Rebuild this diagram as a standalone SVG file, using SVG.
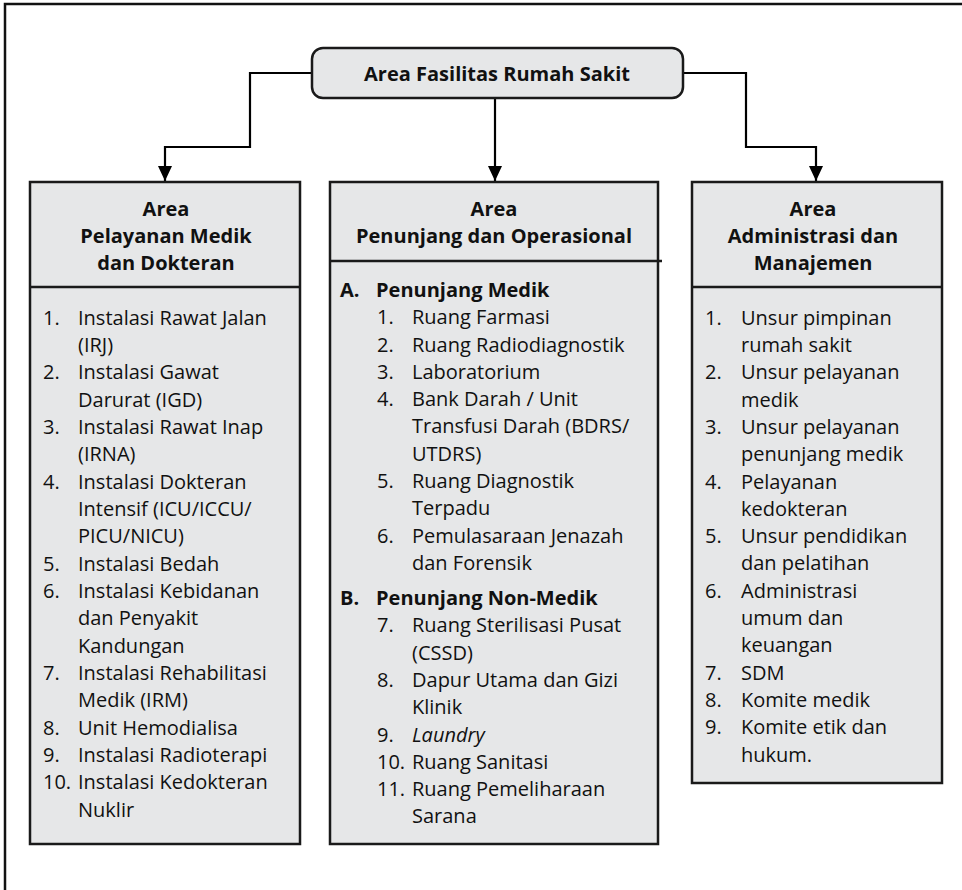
<svg xmlns="http://www.w3.org/2000/svg" width="962" height="890" viewBox="0 0 962 890">
<style>
.box{fill:#e6e7e8;stroke:#1a1a1a;stroke-width:2.5}
.div{stroke:#1a1a1a;stroke-width:2.5;fill:none}
.conn{stroke:#000;stroke-width:2.2;fill:none}
.h{font-family:"Open Sans","Noto Sans",sans-serif;font-weight:700;font-size:20px;fill:#111;text-anchor:middle}
.t{font-family:"Open Sans","Noto Sans",sans-serif;font-size:20px;fill:#111}
.b{font-weight:700}
.i{font-style:italic}
</style>
<defs>
<marker id="arr" markerUnits="userSpaceOnUse" markerWidth="16" markerHeight="14" refX="15" refY="7" orient="auto">
<path d="M0,0 L15,7 L0,14 z" fill="#000"/>
</marker>
</defs>
<path d="M5,890 V4 H962" fill="none" stroke="#111" stroke-width="2.5"/>

<g id="connectors">
<path class="conn" d="M312,73 H250 V147 H165 V181" marker-end="url(#arr)"/>
<path class="conn" d="M495,98 V181" marker-end="url(#arr)"/>
<path class="conn" d="M683,73 H746 V147 H816 V181" marker-end="url(#arr)"/>
</g>

<g id="root">
<rect class="box" x="312" y="48" width="371" height="50" rx="11"/>
<text class="h" x="497" y="81">Area Fasilitas Rumah Sakit</text>
</g>

<g id="col-left">
<rect class="box" x="30" y="182" width="270" height="662"/>
<line class="div" x1="30" y1="287" x2="300" y2="287"/>
<text class="h" x="166" y="216">Area</text>
<text class="h" x="166" y="243">Pelayanan Medik</text>
<text class="h" x="166" y="270">dan Dokteran</text>
<g class="t">
<text x="43" y="325">1.</text><text x="78" y="325">Instalasi Rawat Jalan</text>
<text x="78" y="352">(IRJ)</text>
<text x="43" y="379">2.</text><text x="78" y="379">Instalasi Gawat</text>
<text x="78" y="407">Darurat (IGD)</text>
<text x="43" y="434">3.</text><text x="78" y="434">Instalasi Rawat Inap</text>
<text x="78" y="461">(IRNA)</text>
<text x="43" y="489">4.</text><text x="78" y="489">Instalasi Dokteran</text>
<text x="78" y="516">Intensif (ICU/ICCU/</text>
<text x="78" y="543">PICU/NICU)</text>
<text x="43" y="571">5.</text><text x="78" y="571">Instalasi Bedah</text>
<text x="43" y="598">6.</text><text x="78" y="598">Instalasi Kebidanan</text>
<text x="78" y="625">dan Penyakit</text>
<text x="78" y="653">Kandungan</text>
<text x="43" y="680">7.</text><text x="78" y="680">Instalasi Rehabilitasi</text>
<text x="78" y="707">Medik (IRM)</text>
<text x="43" y="735">8.</text><text x="78" y="735">Unit Hemodialisa</text>
<text x="43" y="762">9.</text><text x="78" y="762">Instalasi Radioterapi</text>
<text x="43" y="789">10.</text><text x="78" y="789">Instalasi Kedokteran</text>
<text x="78" y="817">Nuklir</text>
</g>
</g>

<g id="col-middle">
<rect class="box" x="330" y="182" width="328" height="662"/>
<line class="div" x1="330" y1="261" x2="662" y2="261"/>
<text class="h" x="494" y="216">Area</text>
<text class="h" x="494" y="243">Penunjang dan Operasional</text>
<g class="t">
<text class="b" x="340" y="297">A.</text><text class="b" x="376" y="297">Penunjang Medik</text>
<text x="377" y="324">1.</text><text x="412" y="324">Ruang Farmasi</text>
<text x="377" y="352">2.</text><text x="412" y="352">Ruang Radiodiagnostik</text>
<text x="377" y="379">3.</text><text x="412" y="379">Laboratorium</text>
<text x="377" y="406">4.</text><text x="412" y="406">Bank Darah / Unit</text>
<text x="412" y="433">Transfusi Darah (BDRS/</text>
<text x="412" y="461">UTDRS)</text>
<text x="377" y="488">5.</text><text x="412" y="488">Ruang Diagnostik</text>
<text x="412" y="515">Terpadu</text>
<text x="377" y="543">6.</text><text x="412" y="543">Pemulasaraan Jenazah</text>
<text x="412" y="570">dan Forensik</text>
<text class="b" x="340" y="605">B.</text><text class="b" x="376" y="605">Penunjang Non-Medik</text>
<text x="377" y="632">7.</text><text x="412" y="632">Ruang Sterilisasi Pusat</text>
<text x="412" y="660">(CSSD)</text>
<text x="377" y="687">8.</text><text x="412" y="687">Dapur Utama dan Gizi</text>
<text x="412" y="714">Klinik</text>
<text x="377" y="742">9.</text><text class="i" x="412" y="742">Laundry</text>
<text x="377" y="769">10.</text><text x="412" y="769">Ruang Sanitasi</text>
<text x="377" y="796">11.</text><text x="412" y="796">Ruang Pemeliharaan</text>
<text x="412" y="823">Sarana</text>
</g>
</g>

<g id="col-right">
<rect class="box" x="692" y="182" width="250" height="601"/>
<line class="div" x1="692" y1="287" x2="942" y2="287"/>
<text class="h" x="813" y="216">Area</text>
<text class="h" x="813" y="243">Administrasi dan</text>
<text class="h" x="813" y="270">Manajemen</text>
<g class="t">
<text x="705" y="325">1.</text><text x="741" y="325">Unsur pimpinan</text>
<text x="741" y="352">rumah sakit</text>
<text x="705" y="379">2.</text><text x="741" y="379">Unsur pelayanan</text>
<text x="741" y="407">medik</text>
<text x="705" y="434">3.</text><text x="741" y="434">Unsur pelayanan</text>
<text x="741" y="461">penunjang medik</text>
<text x="705" y="489">4.</text><text x="741" y="489">Pelayanan</text>
<text x="741" y="516">kedokteran</text>
<text x="705" y="543">5.</text><text x="741" y="543">Unsur pendidikan</text>
<text x="741" y="570">dan pelatihan</text>
<text x="705" y="598">6.</text><text x="741" y="598">Administrasi</text>
<text x="741" y="625">umum dan</text>
<text x="741" y="652">keuangan</text>
<text x="705" y="680">7.</text><text x="741" y="680">SDM</text>
<text x="705" y="707">8.</text><text x="741" y="707">Komite medik</text>
<text x="705" y="734">9.</text><text x="741" y="734">Komite etik dan</text>
<text x="741" y="762">hukum.</text>
</g>
</g>
</svg>
